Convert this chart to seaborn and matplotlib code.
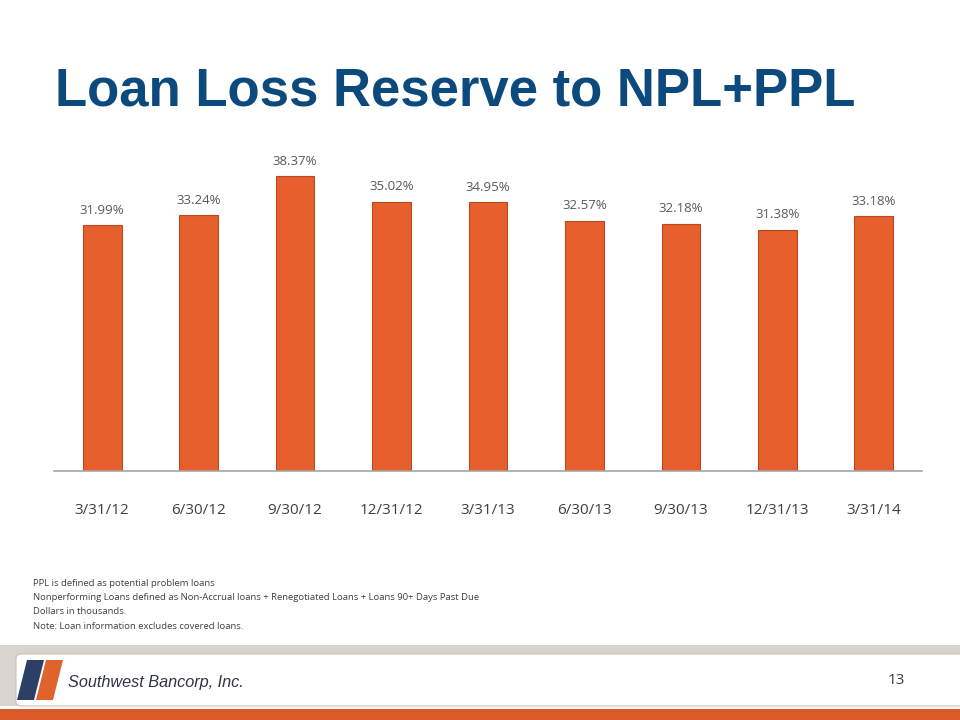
import matplotlib
matplotlib.use('Agg')
import matplotlib.pyplot as plt
import matplotlib.patches as mpatches
import seaborn as sns
import pandas as pd

# Chart data
quarters = ['3/31/12', '6/30/12', '9/30/12', '12/31/12', '3/31/13',
            '6/30/13', '9/30/13', '12/31/13', '3/31/14']
reserve_pct = [31.99, 33.24, 38.37, 35.02, 34.95, 32.57, 32.18, 31.38, 33.18]

footnotes = [
    'PPL is defined as potential problem loans',
    'Nonperforming Loans defined as Non-Accrual loans + Renegotiated Loans + Loans 90+ Days Past Due',
    'Dollars in thousands.',
    'Note: Loan information excludes covered loans.',
]

BAR_COLOR = '#E65F2C'
TITLE_COLOR = '#0C4A7E'
W, H = 960, 720


def px(x, y):
    # pixel coords (top-left origin) -> figure fraction
    return (x / W, 1 - y / H)


sns.set_theme(style='white')
plt.rcParams['font.family'] = ['Open Sans', 'DejaVu Sans']

fig = plt.figure(figsize=(9.6, 7.2), dpi=100)
fig.patch.set_facecolor('white')

# bar chart area
ax = fig.add_axes([54 / W, 1 - 471 / H, (922 - 54) / W, 307.6 / H])
df = pd.DataFrame({'quarter': quarters, 'pct': reserve_pct})
sns.barplot(data=df, x='quarter', y='pct', color=BAR_COLOR, width=0.4,
            saturation=1, edgecolor='#B9491E', linewidth=0.8, ax=ax)
ax.set_ylim(0, 40)
ax.set_xlim(-0.5, len(quarters) - 0.5)
ax.set_xlabel('')
ax.set_ylabel('')
ax.set_yticks([])
for side in ['left', 'right', 'top']:
    ax.spines[side].set_visible(False)
ax.spines['bottom'].set_color('#A6A6A6')
ax.spines['bottom'].set_linewidth(1.2)
ax.tick_params(axis='x', length=0, pad=23, labelsize=11, labelcolor='#404040')
ax.patch.set_alpha(0)
ax.bar_label(ax.containers[0], labels=[f'{v:.2f}%' for v in reserve_pct],
             padding=6, fontsize=9.5, color='#595959')

# title
fig.text(*px(55, 92), 'Loan Loss Reserve to NPL+PPL', fontsize=38,
         fontweight='bold', color=TITLE_COLOR, family='Liberation Sans',
         va='center', ha='left')

# footnotes
for i, line in enumerate(footnotes):
    fig.text(*px(33, 583 + i * 14.5), line, fontsize=6.8, color='#404040',
             va='center', ha='left')

# footer band
fig.add_artist(mpatches.Rectangle(px(0, 706), 1, 61 / H, transform=fig.transFigure,
                                  facecolor='#D9D4D0', edgecolor='none'))
fig.add_artist(mpatches.FancyBboxPatch(px(16, 706), (W - 10) / W, 52 / H,
                                       boxstyle='round,pad=0,rounding_size=0.006',
                                       transform=fig.transFigure,
                                       facecolor='white', edgecolor='#C8C2BD',
                                       linewidth=0.8))
fig.add_artist(mpatches.Rectangle(px(0, 720), 1, 11 / H, transform=fig.transFigure,
                                  facecolor='#DC5A2A', edgecolor='none'))

# logo
blue = [px(17, 700), px(27, 660), px(44, 660), px(34, 700)]
orange = [px(36, 700), px(46, 660), px(63, 660), px(53, 700)]
fig.add_artist(mpatches.Polygon(blue, closed=True, transform=fig.transFigure,
                                facecolor='#2C3F64', edgecolor='none'))
fig.add_artist(mpatches.Polygon(orange, closed=True, transform=fig.transFigure,
                                facecolor='#E0622D', edgecolor='none'))
fig.text(*px(68, 683), 'Southwest Bancorp, Inc.', fontsize=11.7, style='italic',
         color='#2E3547', family='Liberation Sans', va='center', ha='left')
fig.text(*px(888, 681), '13', fontsize=11, color='#404040',
         va='center', ha='left')

fig.savefig('out.png', dpi=100)
